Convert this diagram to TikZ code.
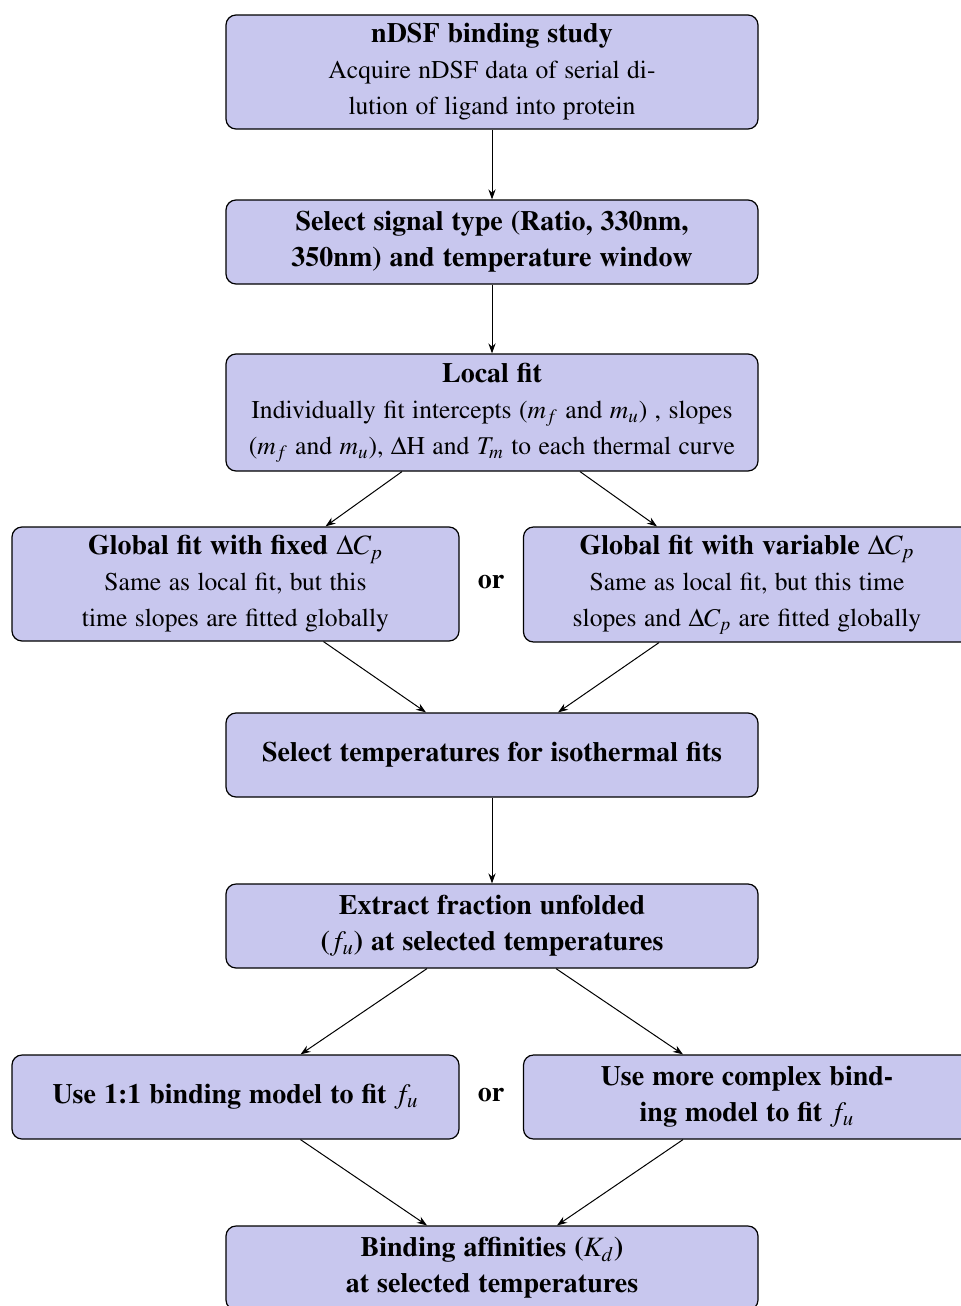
\documentclass[tikz,border=0pt]{standalone}
\usepackage[T1]{fontenc}
\usepackage{mathptmx}
\usetikzlibrary{arrows.meta}
\definecolor{boxfill}{RGB}{200,199,238}
\newlength{\wsbody}\newlength{\wshead}
\newcommand{\bodyfont}{\fontsize{12.8}{18}\selectfont\setlength{\wsbody}{0.29em}\spaceskip=\wsbody\relax}
\newcommand{\hd}[1]{{\fontsize{14}{18}\selectfont\bfseries\setlength{\wshead}{0.285em}\spaceskip=\wshead\relax #1}}
\tikzset{
  flowbox/.style={draw=black, line width=0.6pt, fill=boxfill, rounded corners=5pt,
    align=center, inner sep=0pt, font=\bodyfont},
  wide/.style={minimum width=266pt},
  side/.style={minimum width=223.5pt},
  conn/.style={line width=0.5pt, -{Stealth[length=5pt,width=3.6pt]}},
  orlabel/.style={font=\fontsize{14}{18}\selectfont\bfseries}
}
\begin{document}
\begin{tikzpicture}[x=0.5pt,y=-0.5pt]
\useasboundingbox (0,0) rectangle (961,1306);
\node[flowbox, wide, minimum height=57pt] (n1) at (492,72)
  {\hd{nDSF binding study}\\Acquire nDSF data of serial di-\\lution of ligand into protein};
\node[flowbox, wide, minimum height=42pt] (n2) at (492,242)
  {\hd{Select signal type (Ratio, 330nm,}\\\hd{350nm) and temperature window}};
\node[flowbox, wide, minimum height=58.5pt] (n3) at (492,412.5)
  {\hd{Local fit}\\Individually fit intercepts ($m_f$ and $m_u$) , slopes\\($m_f$ and $m_u$), $\Delta$H and $T_m$ to each thermal curve};
\node[flowbox, side, minimum height=57pt] (n4) at (235.5,584)
  {\hd{Global fit with fixed $\Delta C_p$}\\Same as local fit, but this\\time slopes are fitted globally};
\node[flowbox, side, minimum height=57.5pt] (n5) at (747,584.5)
  {\hd{Global fit with variable $\Delta C_p$}\\Same as local fit, but this time\\slopes and $\Delta C_p$ are fitted globally};
\node[orlabel] (or1) at (491,582) {or};
\node[flowbox, wide, minimum height=42pt] (n6) at (492,755)
  {\hd{Select temperatures for isothermal fits}};
\node[flowbox, wide, minimum height=42pt] (n7) at (492,926)
  {\hd{Extract fraction unfolded}\\\hd{($f_u$) at selected temperatures}};
\node[flowbox, side, minimum height=42pt] (n8) at (235.5,1097)
  {\hd{Use 1:1 binding model to fit $f_u$}};
\node[flowbox, side, minimum height=42pt] (n9) at (747,1097)
  {\hd{Use more complex bind-}\\\hd{ing model to fit $f_u$}};
\node[orlabel] (or2) at (491,1095) {or};
\node[flowbox, wide, minimum height=42pt] (n10) at (492,1268)
  {\hd{Binding affinities ($K_d$)}\\\hd{at selected temperatures}};
\draw[conn] (n1) -- (n2);
\draw[conn] (n2) -- (n3);
\draw[conn] ([xshift=-45pt]n3.south) -- ([xshift=45pt]n4.north);
\draw[conn] ([xshift=44pt]n3.south) -- ([xshift=-45pt]n5.north);
\draw[conn] ([xshift=44pt]n4.south) -- ([xshift=-33pt]n6.north);
\draw[conn] ([xshift=-44pt]n5.south) -- ([xshift=33pt]n6.north);
\draw[conn] (n6) -- (n7);
\draw[conn] ([xshift=-32.5pt]n7.south) -- ([xshift=32.5pt]n8.north);
\draw[conn] ([xshift=32pt]n7.south) -- ([xshift=-32pt]n9.north);
\draw[conn] ([xshift=32.5pt]n8.south) -- ([xshift=-32.5pt]n10.north);
\draw[conn] ([xshift=-32pt]n9.south) -- ([xshift=32.5pt]n10.north);
\end{tikzpicture}
\end{document}
